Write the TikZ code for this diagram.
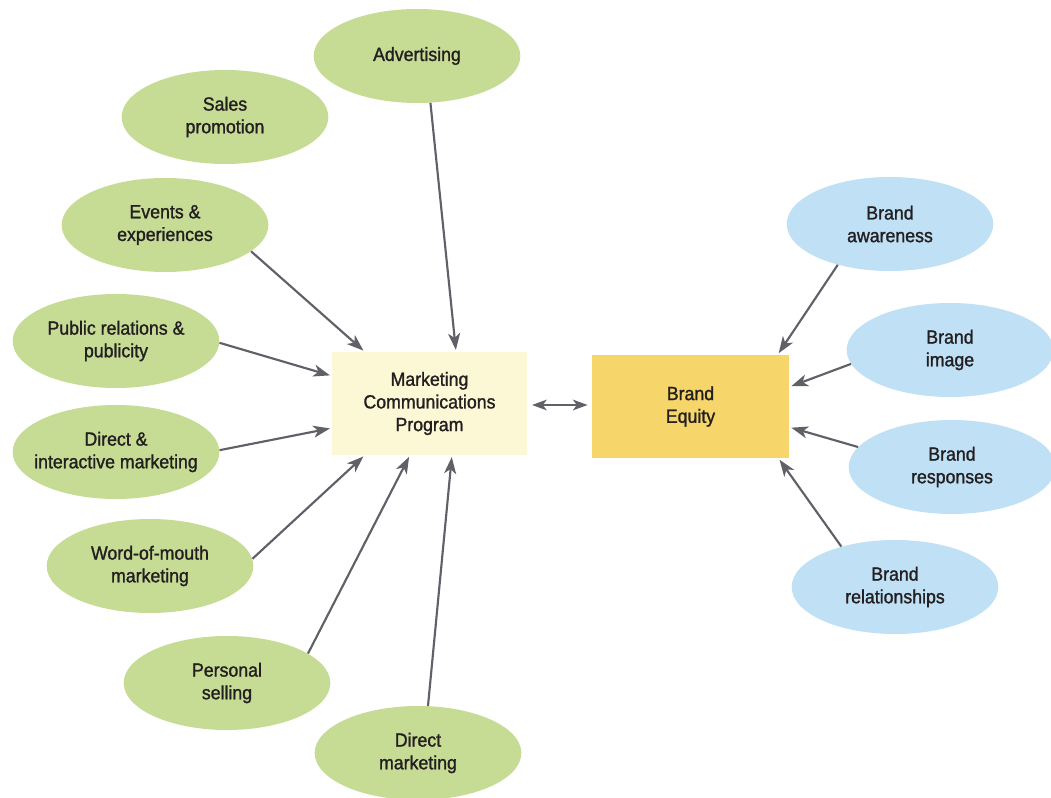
\documentclass[tikz,border=0pt]{standalone}
\usepackage{fontspec}
\setmainfont{Liberation Sans}
\newfontfamily\lblfont{Liberation Sans}[FakeBold=1.3,FakeStretch=0.93]
\usetikzlibrary{shapes.geometric,arrows.meta,calc}
\definecolor{gfill}{HTML}{C6DC95}
\definecolor{bfill}{HTML}{BFE0F5}
\definecolor{mfill}{HTML}{FCF7D4}
\definecolor{efill}{HTML}{F6D66A}
\definecolor{arrc}{HTML}{606168}
\definecolor{txt}{HTML}{231F20}
\tikzset{
  oval/.style={ellipse, inner sep=0pt, minimum width=155pt, minimum height=70.5pt,
    align=center, text=txt, font=\lblfont\fontsize{14.3}{17}\selectfont},
  goval/.style={oval, fill=gfill},
  boval/.style={oval, fill=bfill},
  mbox/.style={rectangle, inner sep=0pt, minimum width=146pt, minimum height=77pt,
    align=center, text=txt, font=\lblfont\fontsize{14.3}{17}\selectfont},
  arr/.style={draw=arrc, line width=1.6pt, -{Stealth[length=12.5pt,width=9pt,inset=3.5pt]}, shorten >=1.5pt},
  darr/.style={draw=arrc, line width=1.6pt, {Stealth[length=11pt,width=8pt,inset=3pt]}-{Stealth[length=11pt,width=8pt,inset=3pt]}}
}
\begin{document}
\begin{tikzpicture}[x=0.75pt,y=-0.75pt]
\useasboundingbox[fill=white] (0,0) rectangle (1051,798);
% left ovals
\node[goval] (adv) at (417,56) {Advertising};
\node[goval] (sal) at (225,117) {Sales\\promotion};
\node[goval] (evt) at (165,225) {Events \&\\experiences};
\node[goval] (pub) at (116,341) {\makebox[100pt]{Public relations \&}\\publicity};
\node[goval] (dir) at (116,452) {Direct \&\\\makebox[100pt]{interactive marketing}};
\node[goval] (wom) at (150,566) {Word-of-mouth\\marketing};
\node[goval] (per) at (227,683) {Personal\\selling};
\node[goval] (dmk) at (418,753) {Direct\\marketing};
% right ovals
\node[boval] (awa) at (890,224) {Brand\\awareness};
\node[boval] (img) at (950,350) {Brand\\image};
\node[boval] (res) at (952,467) {Brand\\responses};
\node[boval] (rel) at (895,587) {Brand\\relationships};
% boxes
\node[mbox, fill=mfill] (mcp) at (429.5,403.5) {Marketing\\Communications\\Program};
\node[mbox, fill=efill, minimum width=148pt] (beq) at (690.5,406.5) {Brand\\Equity};
% arrows into MCP
\draw[arr] (adv.-74.5) -- ($(mcp.north west)!0.636!(mcp.north east)$);
\draw[arr] (evt.-17) -- ($(mcp.north west)!0.169!(mcp.north east)$);
\draw[arr] (pub.-1) -- ($(mcp.north west)!0.233!(mcp.south west)$);
\draw[arr] (dir.1) -- ($(mcp.north west)!0.738!(mcp.south west)$);
\draw[arr] (wom.4.5) -- ($(mcp.south west)!0.169!(mcp.south east)$);
\draw[arr] (per.20.3) -- ($(mcp.south west)!0.40!(mcp.south east)$);
\draw[arr] (dmk.78.7) -- ($(mcp.south west)!0.615!(mcp.south east)$);
% arrows into Brand Equity
\draw[arr] (awa.-142) -- ($(beq.north west)!0.94!(beq.north east)$);
\draw[arr] (img.-172.6) -- ($(beq.north east)!0.31!(beq.south east)$);
\draw[arr] (res.168.3) -- ($(beq.north east)!0.70!(beq.south east)$);
\draw[arr] (rel.143.7) -- ($(beq.south west)!0.944!(beq.south east)$);
% double arrow
\draw[darr] ($(mcp.east)+(5,1.5)$) -- ($(beq.west)+(-4,-1.5)$);
\end{tikzpicture}
\end{document}
